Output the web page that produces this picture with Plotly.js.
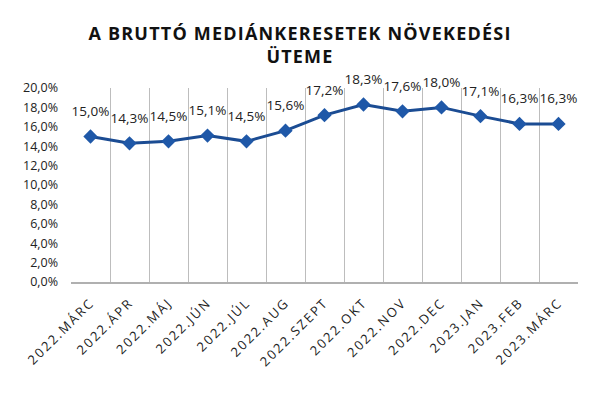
<!DOCTYPE html>
<html>
<head>
<meta charset="utf-8">
<script src="https://cdn.plot.ly/plotly-3.0.1.min.js"></script>
<style>
  html, body { margin: 0; padding: 0; background: #fff; }
  #chart { width: 600px; height: 400px; }
  /* spaced-out lettering like the original */
  #chart .gtitle { letter-spacing: 1.2px; }
  #chart .xtick text { letter-spacing: 2px; }
</style>
</head>
<body>
<div id="chart"></div>
<script>
// month labels and growth rates (percent)
const months = [
  "2022.MÁRC", "2022.ÁPR", "2022.MÁJ", "2022.JÚN", "2022.JÚL", "2022.AUG",
  "2022.SZEPT", "2022.OKT", "2022.NOV", "2022.DEC", "2023.JAN", "2023.FEB", "2023.MÁRC"
];
const growth = [15.0, 14.3, 14.5, 15.1, 14.5, 15.6, 17.2, 18.3, 17.6, 18.0, 17.1, 16.3, 16.3];
const yTicks = [0, 2, 4, 6, 8, 10, 12, 14, 16, 18, 20];
const yTickText = yTicks.map((v) => v.toFixed(1).replace(".", ",") + "%");

const lineTrace = {
  x: months,
  y: growth,
  type: "scatter",
  mode: "lines+markers",
  line: { color: "#1b4c93", width: 3 },
  marker: { symbol: "diamond", size: 11, color: "#1f58a8" },
  hoverinfo: "skip"
};

// invisible markers only used to lift the value labels above the points
const labelTrace = {
  x: months,
  y: growth,
  type: "scatter",
  mode: "markers+text",
  marker: { size: 26, opacity: 0 },
  texttemplate: "%{y:.1f}%",
  textposition: "top center",
  textfont: { family: "Open Sans, sans-serif", size: 13.5, color: "#222" },
  cliponaxis: false,
  hoverinfo: "skip"
};

const layout = {
  width: 600,
  height: 400,
  separators: ",.",
  paper_bgcolor: "#fff",
  plot_bgcolor: "#fff",
  margin: { l: 71, r: 22, t: 88, b: 118 },
  showlegend: false,
  font: { family: "Open Sans, sans-serif", color: "#222" },
  title: {
    text: "<b>A BRUTTÓ MEDIÁNKERESETEK NÖVEKEDÉSI<br>ÜTEME</b>",
    font: { family: "Open Sans, sans-serif", size: 18, color: "#111" },
    x: 0.5,
    xanchor: "center",
    yref: "container",
    y: 0.9,
    yanchor: "middle"
  },
  xaxis: {
    type: "category",
    range: [-0.5, 12.5],
    tickson: "boundaries",
    showgrid: true,
    gridcolor: "#bdbdbd",
    gridwidth: 1,
    showline: true,
    linecolor: "#b0b0b0",
    linewidth: 2,
    ticks: "",
    tickangle: -45,
    ticklabelstandoff: 6,
    tickfont: { size: 13, color: "#222" }
  },
  yaxis: {
    range: [0, 20],
    tickvals: yTicks,
    ticktext: yTickText,
    showgrid: false,
    zeroline: false,
    showline: false,
    ticks: "",
    ticklabelstandoff: 12,
    tickfont: { size: 12.5, color: "#222" }
  }
};

Plotly.newPlot("chart", [lineTrace, labelTrace], layout, { displayModeBar: false, staticPlot: true });
</script>
</body>
</html>
